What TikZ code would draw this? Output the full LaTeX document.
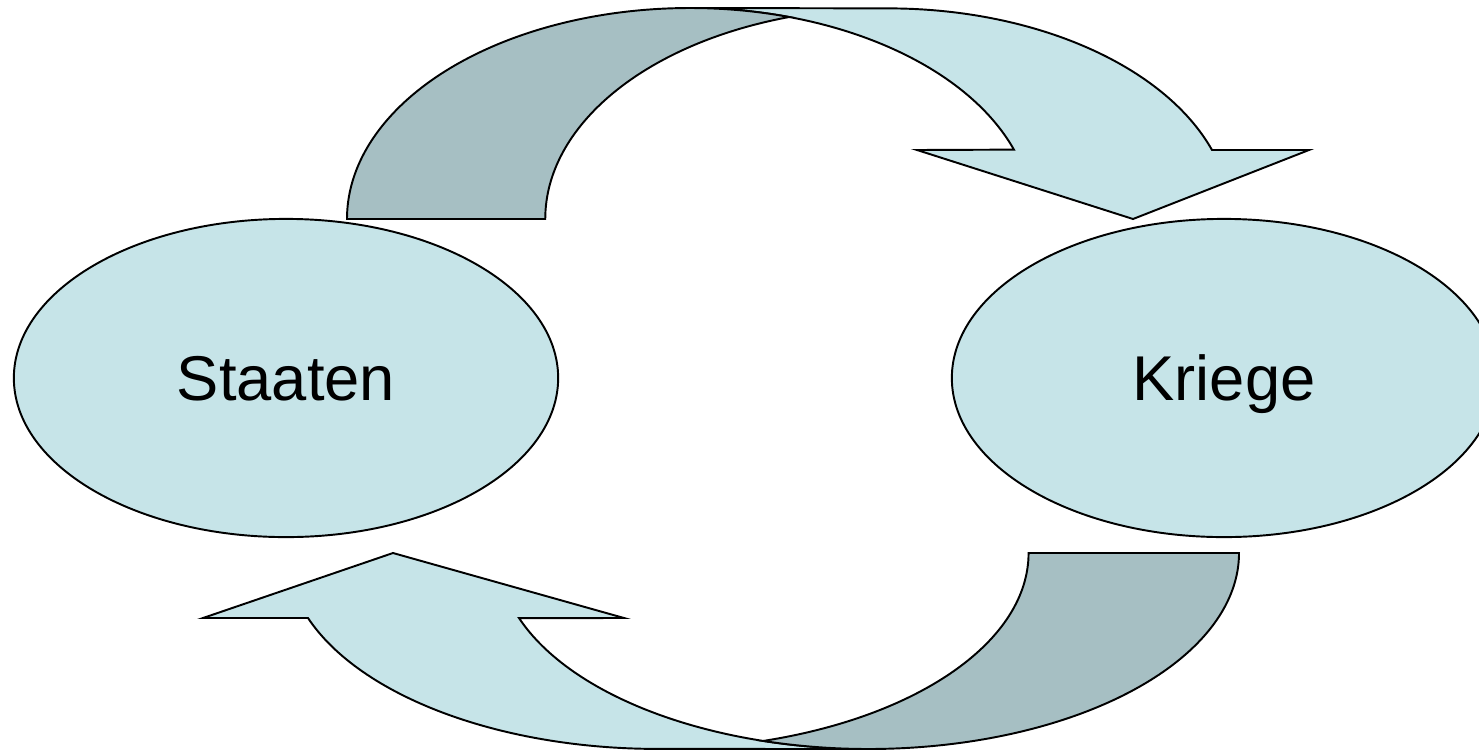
\documentclass[tikz,border=0pt]{standalone}
\usepackage{fontspec}
\setmainfont{Liberation Sans}
\usetikzlibrary{shapes.geometric}

\begin{document}
\begin{tikzpicture}[x=0.01cm, y=0.01cm]
    % Define colours
    \definecolor{borderColour}{HTML}{000000}
    \definecolor{fillColour}{HTML}{C6E4E8}
    \definecolor{shadeColour}{HTML}{A6BFC3}

    \tikzset{
        ovalNode/.style={ellipse, draw=borderColour, fill=fillColour, line width=0.55pt,
            minimum width=5.44cm, minimum height=3.18cm, inner sep=0pt,
            font=\fontsize{18}{20}\selectfont, text height=12.9pt, text depth=0pt},
        bandFront/.style={draw=borderColour, fill=fillColour, line width=0.55pt},
        bandBack/.style={draw=borderColour, fill=shadeColour, line width=0.55pt}
    }

    % Fix the canvas
    \useasboundingbox (0,0) rectangle (1479,-751);

    % Draw the two ellipses
    \node[ovalNode] (staaten) at (286,-378) {Staaten};
    \node[ovalNode] (kriege) at (1224,-378) {Kriege};

    % Define the arrow tips
    \coordinate (topTip) at (1133,-219);
    \coordinate (bottomTip) at (393,-553);

    % Draw the upper curved arrow
    \draw[bandFront] (1212,-150) arc[start angle=19.2, end angle=90, x radius=343, y radius=211]
        -- (690,-8) arc[start angle=90, end angle=19.2, x radius=343, y radius=211]
        -- (917,-150) -- (topTip) -- (1309,-150) -- cycle;
    \draw[bandBack] (347,-219) arc[start angle=180, end angle=73.2, x radius=343, y radius=211]
        arc[start angle=106.8, end angle=180, x radius=343, y radius=211] -- cycle;

    % Draw the lower curved arrow
    \draw[bandFront] (308,-618) arc[start angle=-160.6, end angle=-90, x radius=370.5, y radius=196]
        -- (868.5,-749) arc[start angle=-90, end angle=-160.6, x radius=370.5, y radius=196]
        -- (624,-618) -- (bottomTip) -- (203,-618) -- cycle;
    \draw[bandBack] (1239,-553) arc[start angle=0, end angle=-106.5, x radius=370.5, y radius=196]
        arc[start angle=-73.5, end angle=0, x radius=370.5, y radius=196] -- cycle;

\end{tikzpicture}
\end{document}
